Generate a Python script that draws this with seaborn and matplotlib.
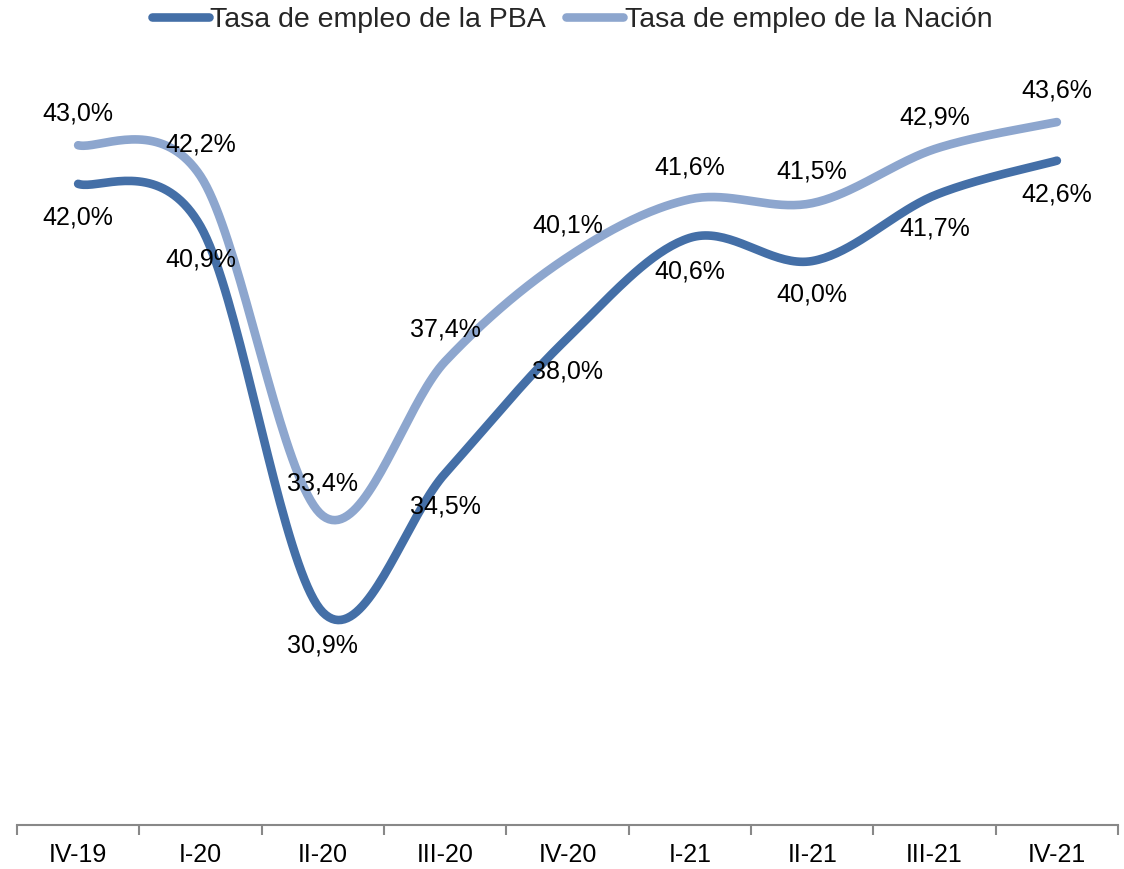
import numpy as np
import pandas as pd
import matplotlib
matplotlib.use("Agg")
import matplotlib.pyplot as plt
import seaborn as sns
from matplotlib.lines import Line2D

categories = ["IV-19", "I-20", "II-20", "III-20", "IV-20", "I-21", "II-21", "III-21", "IV-21"]
pba = [42.0, 40.9, 30.9, 34.5, 38.0, 40.6, 40.0, 41.7, 42.6]
nacion = [43.0, 42.2, 33.4, 37.4, 40.1, 41.6, 41.5, 42.9, 43.6]
series_names = ["Tasa de empleo de la PBA", "Tasa de empleo de la Nación"]
colors = ["#446FA7", "#8DA6CE"]

sns.set_theme(style="white")
plt.rcParams["font.family"] = ["Liberation Sans", "DejaVu Sans"]


def smooth(xs, ys, n=40):
    # Catmull-Rom style Bezier smoothing (like Excel "smoothed line")
    xs = np.asarray(xs, float)
    ys = np.asarray(ys, float)
    px, py = [], []
    m = len(xs)
    for i in range(m - 1):
        x0, y0 = (xs[i - 1], ys[i - 1]) if i > 0 else (xs[i], ys[i])
        x1, y1 = xs[i], ys[i]
        x2, y2 = xs[i + 1], ys[i + 1]
        x3, y3 = (xs[i + 2], ys[i + 2]) if i + 2 < m else (xs[i + 1], ys[i + 1])
        c1x, c1y = x1 + (x2 - x0) / 6, y1 + (y2 - y0) / 6
        c2x, c2y = x2 - (x3 - x1) / 6, y2 - (y3 - y1) / 6
        t = np.linspace(0, 1, n, endpoint=(i == m - 2))
        b0, b1, b2, b3 = (1 - t) ** 3, 3 * (1 - t) ** 2 * t, 3 * (1 - t) * t ** 2, t ** 3
        px.extend(b0 * x1 + b1 * c1x + b2 * c2x + b3 * x2)
        py.extend(b0 * y1 + b1 * c1y + b2 * c2y + b3 * y2)
    return np.array(px), np.array(py)


fig = plt.figure(figsize=(11.24, 8.69), dpi=100)
ax = fig.add_axes([0.0151, 0.0506, 0.9796, 0.88])

x = np.arange(len(categories))
frames = []
for name, vals in zip(series_names, [pba, nacion]):
    sx, sy = smooth(x, vals)
    frames.append(pd.DataFrame({"x": sx, "y": sy, "serie": name}))
df = pd.concat(frames, ignore_index=True)

sns.lineplot(data=df, x="x", y="y", hue="serie", palette=colors, sort=False,
             linewidth=6.2, ax=ax, legend=False, estimator=None,
             solid_capstyle="round")

# labels
for vals, off in [(pba, -24), (nacion, 23)]:
    for xi, v in zip(x, vals):
        ax.annotate(f"{v:.1f}%".replace(".", ","), (xi, v), xytext=(0, off),
                    textcoords="offset points", ha="center", va="center",
                    fontsize=18, color="black")

ax.set_xlim(-0.5, len(categories) - 0.5)
ax.set_ylim(25.39, 45.2)
ax.set_yticks([])
ax.set_xticks(x)
ax.set_xticklabels(categories, fontsize=18, color="black")
ax.set_xticks(np.arange(-0.5, len(categories), 1), minor=True)
ax.tick_params(axis="x", which="major", length=0, pad=13)
ax.tick_params(axis="x", which="minor", length=7, width=1.5, color="#888888", direction="out", bottom=True)
ax.set_xlabel("")
ax.set_ylabel("")
for s in ["top", "left", "right"]:
    ax.spines[s].set_visible(False)
ax.spines["bottom"].set_color("#888888")
ax.spines["bottom"].set_linewidth(1.5)

handles = [Line2D([0], [0], color=c, lw=6.2, solid_capstyle="round") for c in colors]
fig.legend(handles, series_names, loc="upper center", bbox_to_anchor=(0.509, 1.022),
           ncol=2, frameon=False, fontsize=20.5, handlelength=2.0, handletextpad=0.05,
           columnspacing=0.7)

fig.savefig("out.png", dpi=100)
